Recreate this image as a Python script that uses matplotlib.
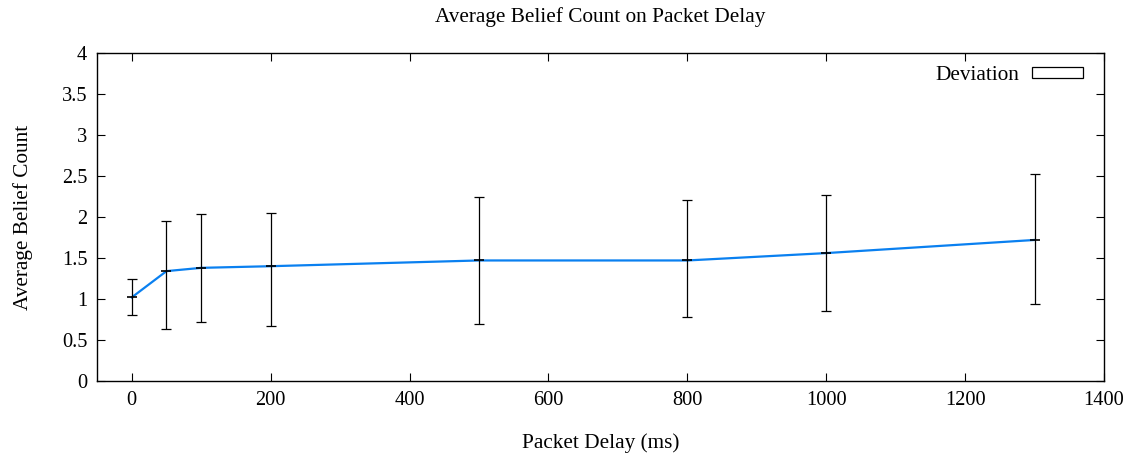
import matplotlib
matplotlib.use("Agg")
import matplotlib.pyplot as plt
from matplotlib.patches import Rectangle

plt.rcParams['font.family'] = ['Liberation Serif', 'DejaVu Serif']

# Packet delay (ms) and the measured belief counts
delay_ms = [0, 50, 100, 200, 500, 800, 1000, 1300]
mean_count = [1.02, 1.34, 1.38, 1.40, 1.47, 1.47, 1.56, 1.72]
low_count = [0.81, 0.63, 0.72, 0.67, 0.69, 0.78, 0.85, 0.94]
high_count = [1.24, 1.95, 2.04, 2.05, 2.24, 2.21, 2.27, 2.52]

x_ticks = [0, 200, 400, 600, 800, 1000, 1200, 1400]
y_ticks = [0, 0.5, 1, 1.5, 2, 2.5, 3, 3.5, 4]
y_tick_labels = ['0', '0.5', '1', '1.5', '2', '2.5', '3', '3.5', '4']

fig = plt.figure(figsize=(11.39, 4.58), dpi=100)
ax = fig.add_axes([0.0852, 0.1681, 0.9693 - 0.0852, 0.8843 - 0.1681])

err_lo = [m - l for m, l in zip(mean_count, low_count)]
err_hi = [h - m for m, h in zip(mean_count, high_count)]

ax.plot(delay_ms, mean_count, color='#0a80f0', lw=1.6, zorder=2)
ax.errorbar(delay_ms, mean_count, yerr=[err_lo, err_hi], fmt='none',
            ecolor='black', elinewidth=0.9, capsize=3.6, capthick=0.9, zorder=3)
# small tick at each mean point
ax.plot(delay_ms, mean_count, ls='none', marker='_', ms=7, mew=1.2,
        color='black', zorder=4)

ax.set_xlim(-50, 1400)
ax.set_ylim(0, 4)
ax.set_xticks(x_ticks)
ax.set_yticks(y_ticks)
ax.set_yticklabels(y_tick_labels)
ax.tick_params(direction='in', length=6, width=0.8, top=True, right=True,
               labelsize=14.7, pad=7, colors='black')
for s in ax.spines.values():
    s.set_linewidth(1.0)

ax.set_title('Average Belief Count on Packet Delay', fontsize=15.3, pad=22)
ax.set_xlabel('Packet Delay (ms)', fontsize=15.3, labelpad=17)
ax.set_ylabel('Average Belief Count', fontsize=15.3, labelpad=21)

legend_box = Rectangle((0, 0), 1, 1, facecolor='white', edgecolor='black', lw=0.9)
ax.legend([legend_box], ['Deviation'], loc='upper right',
          bbox_to_anchor=(1.0, 1.024), frameon=False,
          fontsize=15.3, markerfirst=False, handlelength=2.4, handleheight=0.4,
          borderaxespad=0.8, borderpad=0.2, handletextpad=0.6)

fig.savefig('out.png', dpi=100)
